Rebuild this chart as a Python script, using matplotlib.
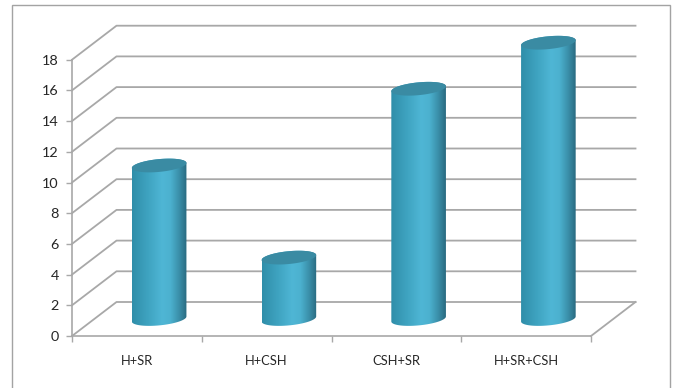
"""Cylinder bar chart with a perspective floor and back wall."""

import matplotlib
matplotlib.use("Agg")
import matplotlib.pyplot as plt
import numpy as np
from matplotlib.colors import LinearSegmentedColormap
from matplotlib.patches import PathPatch, Rectangle
from matplotlib.path import Path

categories = ["H+SR", "H+CSH", "CSH+SR", "H+SR+CSH"]
values = [10, 4, 15, 18]
y_ticks = [0, 2, 4, 6, 8, 10, 12, 14, 16, 18]

GRID = "#a8a8a8"
TEXT = "#262626"
TOP_COLOR = "#3a8ba3"
BODY_STOPS = [
    (0.00, "#2f8ea9"),
    (0.30, "#3fa4c1"),
    (0.55, "#4fb6d5"),
    (0.70, "#4cb1cf"),
    (0.86, "#3a8fa9"),
    (1.00, "#2a6a80"),
]

W, H = 674, 388
X0, X1 = 72.0, 591.0
Y0, Y18 = 336.0, 59.7
PX_X = (X1 - X0) / len(categories)
PX_Y = (Y0 - Y18) / 18.0
# wall depth, in data units
DEPTH_X = 44.5 / PX_X
DEPTH_Y = 34.0 / PX_Y

plt.rcParams["font.family"] = ["Lato", "DejaVu Sans"]

fig = plt.figure(figsize=(W / 100, H / 100), dpi=100)
fig.add_artist(Rectangle((11.5 / W, -0.02), 658 / W, 1.0 - 5.5 / H + 0.02,
                         transform=fig.transFigure, fill=False,
                         ec="#a3a3a3", lw=1.0))

ax = fig.add_axes([X0 / W, 1 - Y0 / H, (X1 - X0) / W, (Y0 - Y18) / H])
ax.set_xlim(0, len(categories))
ax.set_ylim(0, 18)
ax.patch.set_visible(False)
for name in ["top", "right"]:
    ax.spines[name].set_visible(False)
for name in ["left", "bottom"]:
    ax.spines[name].set_color(GRID)
    ax.spines[name].set_linewidth(1.2)

ax.set_yticks(y_ticks)
ax.set_xticks(range(len(categories) + 1))
ax.set_xticklabels([])
ax.set_xticks(np.arange(len(categories)) + 0.5, categories, minor=True)
ax.tick_params(axis="x", which="major", length=4.5, width=1.0, color=GRID)
ax.tick_params(axis="x", which="minor", length=0, pad=14, labelsize=9.3, labelcolor=TEXT)
ax.tick_params(axis="y", length=4, width=1.0, color=GRID, pad=5.5, labelsize=10.4, labelcolor=TEXT)

# back wall and side wall gridlines
n = len(categories)
for v in y_ticks:
    ax.plot([0, DEPTH_X, n + DEPTH_X], [v, v + DEPTH_Y, v + DEPTH_Y],
            color=GRID, lw=1.3, clip_on=False, zorder=1)
ax.plot([n, n + DEPTH_X], [0, DEPTH_Y], color=GRID, lw=1.3, clip_on=False, zorder=1)

cmap = LinearSegmentedColormap.from_list("cyl", BODY_STOPS)
gradient = np.linspace(0, 1, 256).reshape(1, -1)
half_w = 27.3 / PX_X
tilt = 2.5 / PX_Y
half_h = 6.4 / PX_Y
t = np.linspace(0, 2 * np.pi, 121)

for i, val in enumerate(values):
    cx = i + 0.5 + DEPTH_X / 2
    base = DEPTH_Y / 2
    top = val + DEPTH_Y / 2

    # lower half of the base ellipse, then back up over the top ellipse
    t_low = np.linspace(np.pi, 2 * np.pi, 61)
    t_up = np.linspace(0, np.pi, 61)
    low_x = cx + half_w * np.cos(t_low)
    low_y = base + tilt * np.cos(t_low) + half_h * np.sin(t_low)
    up_x = cx + half_w * np.cos(t_up)
    up_y = top + tilt * np.cos(t_up) + half_h * np.sin(t_up)
    body = Path(np.column_stack([np.r_[low_x, up_x], np.r_[low_y, up_y]]))
    patch = PathPatch(body, fc="none", ec="none", transform=ax.transData, clip_on=False)
    ax.add_patch(patch)

    # tallest cylinders rise past the axes box, so clip to the figure instead
    im = ax.imshow(gradient, cmap=cmap, aspect="auto", zorder=3, interpolation="bilinear",
                   extent=[cx - half_w, cx + half_w, base - 2 * half_h, top + 2 * half_h])
    im.set_clip_box(fig.bbox)
    im.set_clip_path(patch)

    ax.fill(cx + half_w * np.cos(t), top + tilt * np.cos(t) + half_h * np.sin(t),
            color=TOP_COLOR, lw=0, zorder=4, clip_on=False)

ax.set_xlim(0, len(categories))
ax.set_ylim(0, 18)

fig.savefig("out.png", dpi=100)
plt.close(fig)
